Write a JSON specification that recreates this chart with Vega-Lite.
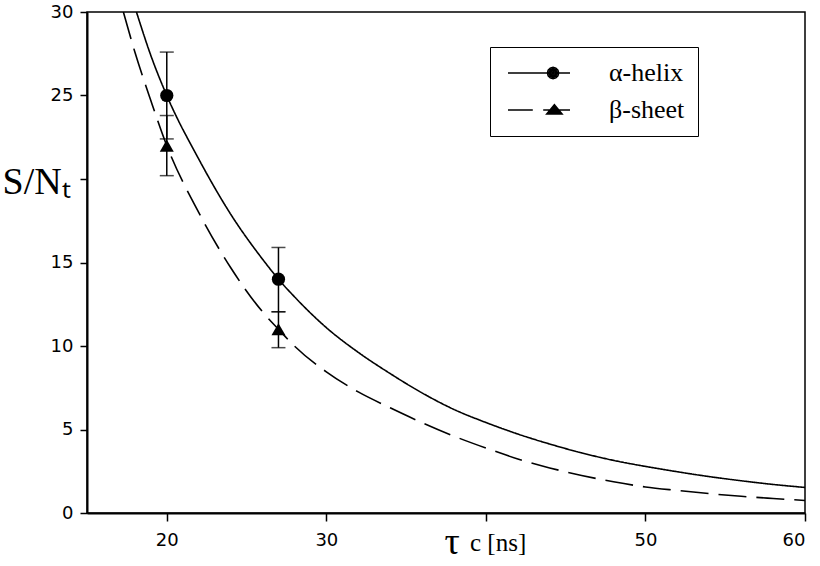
{
  "$schema": "https://vega.github.io/schema/vega-lite/v6.json",
  "width": 718,
  "height": 501,
  "autosize": {"type": "none"},
  "padding": {"left": 87, "top": 12, "right": 15, "bottom": 53},
  "background": "white",
  "config": {
    "view": {"stroke": "black", "strokeWidth": 1.5},
    "axis": {
      "grid": false,
      "domainColor": "black",
      "domainWidth": 2,
      "tickColor": "black",
      "tickWidth": 1.5,
      "labelColor": "black",
      "labelFont": "DejaVu Sans",
      "labelFontSize": 18,
      "titleColor": "black",
      "titleFont": "Liberation Serif",
      "titleFontWeight": "normal"
    }
  },
  "title": {
    "text": "c [ns]",
    "orient": "bottom",
    "anchor": "start",
    "frame": "group",
    "dx": 383,
    "offset": -30,
    "baseline": "top",
    "font": "Liberation Serif",
    "fontSize": 25,
    "fontWeight": "normal",
    "color": "black"
  },
  "datasets": {
    "curves": [
      {"series": "α-helix", "tau": 18.1, "sn": 30},
      {"series": "α-helix", "tau": 19, "sn": 27.4},
      {"series": "α-helix", "tau": 20, "sn": 25},
      {"series": "α-helix", "tau": 22, "sn": 21.2},
      {"series": "α-helix", "tau": 24, "sn": 17.9},
      {"series": "α-helix", "tau": 26, "sn": 15.2},
      {"series": "α-helix", "tau": 27, "sn": 14},
      {"series": "α-helix", "tau": 28, "sn": 12.95},
      {"series": "α-helix", "tau": 30, "sn": 11.1},
      {"series": "α-helix", "tau": 32, "sn": 9.62},
      {"series": "α-helix", "tau": 34, "sn": 8.35},
      {"series": "α-helix", "tau": 36, "sn": 7.19},
      {"series": "α-helix", "tau": 38, "sn": 6.2},
      {"series": "α-helix", "tau": 40, "sn": 5.42},
      {"series": "α-helix", "tau": 42, "sn": 4.73},
      {"series": "α-helix", "tau": 44, "sn": 4.13},
      {"series": "α-helix", "tau": 46, "sn": 3.6},
      {"series": "α-helix", "tau": 48, "sn": 3.15},
      {"series": "α-helix", "tau": 50, "sn": 2.79},
      {"series": "α-helix", "tau": 52, "sn": 2.47},
      {"series": "α-helix", "tau": 54, "sn": 2.18},
      {"series": "α-helix", "tau": 56, "sn": 1.93},
      {"series": "α-helix", "tau": 58, "sn": 1.71},
      {"series": "α-helix", "tau": 60, "sn": 1.53},
      {"series": "β-sheet", "tau": 17.28, "sn": 30},
      {"series": "β-sheet", "tau": 18, "sn": 27.6},
      {"series": "β-sheet", "tau": 19, "sn": 24.7},
      {"series": "β-sheet", "tau": 20, "sn": 22},
      {"series": "β-sheet", "tau": 22, "sn": 18.0},
      {"series": "β-sheet", "tau": 24, "sn": 14.7},
      {"series": "β-sheet", "tau": 26, "sn": 12.05},
      {"series": "β-sheet", "tau": 27, "sn": 11},
      {"series": "β-sheet", "tau": 28, "sn": 10.0},
      {"series": "β-sheet", "tau": 30, "sn": 8.45},
      {"series": "β-sheet", "tau": 32, "sn": 7.25},
      {"series": "β-sheet", "tau": 34, "sn": 6.3},
      {"series": "β-sheet", "tau": 36, "sn": 5.41},
      {"series": "β-sheet", "tau": 38, "sn": 4.6},
      {"series": "β-sheet", "tau": 40, "sn": 3.89},
      {"series": "β-sheet", "tau": 42, "sn": 3.24},
      {"series": "β-sheet", "tau": 44, "sn": 2.7},
      {"series": "β-sheet", "tau": 46, "sn": 2.25},
      {"series": "β-sheet", "tau": 48, "sn": 1.87},
      {"series": "β-sheet", "tau": 50, "sn": 1.56},
      {"series": "β-sheet", "tau": 52, "sn": 1.35},
      {"series": "β-sheet", "tau": 54, "sn": 1.16},
      {"series": "β-sheet", "tau": 56, "sn": 1.0},
      {"series": "β-sheet", "tau": 58, "sn": 0.87},
      {"series": "β-sheet", "tau": 60, "sn": 0.75}
    ],
    "pts": [
      {"series": "α-helix", "tau": 20, "sn": 25, "lo": 22.4, "hi": 27.6},
      {"series": "α-helix", "tau": 27, "sn": 14, "lo": 12.05, "hi": 15.9},
      {"series": "β-sheet", "tau": 20, "sn": 22, "lo": 20.2, "hi": 23.8},
      {"series": "β-sheet", "tau": 27, "sn": 11, "lo": 9.9, "hi": 12.05}
    ]
  },
  "layer": [
    {
      "data": {"name": "curves"},
      "mark": {"type": "line", "interpolate": "monotone", "strokeWidth": 1.6, "color": "black", "clip": true},
      "encoding": {
        "x": {
          "field": "tau", "type": "quantitative",
          "scale": {"domain": [15, 60], "nice": false, "zero": false},
          "axis": {
            "values": [20, 30, 40, 50, 60],
            "labelExpr": "datum.value === 40 ? '' : datum.label",
            "tickSize": 8,
            "labelPadding": 10,
            "title": "τ",
            "titleFontSize": 38,
            "titleX": 357,
            "titleY": 40,
            "titleAlign": "left",
            "titleBaseline": "alphabetic"
          }
        },
        "y": {
          "field": "sn", "type": "quantitative",
          "scale": {"domain": [0, 30], "nice": false},
          "axis": {
            "values": [0, 5, 10, 15, 20, 25, 30],
            "labelExpr": "datum.value === 20 ? '' : datum.label",
            "tickSize": 7,
            "labelPadding": 7,
            "title": "S/Nₜ",
            "titleAngle": 0,
            "titleFontSize": 38,
            "titleX": -85,
            "titleY": 181,
            "titleAlign": "left",
            "titleBaseline": "alphabetic"
          }
        },
        "strokeDash": {
          "field": "series", "type": "nominal",
          "scale": {"domain": ["β-sheet", "α-helix"], "range": [[28, 10], [1, 0]]},
          "legend": null
        }
      }
    },
    {
      "data": {"name": "pts"},
      "mark": {"type": "rule", "strokeWidth": 1.5, "color": "black"},
      "encoding": {
        "x": {"field": "tau", "type": "quantitative"},
        "y": {"field": "lo", "type": "quantitative"},
        "y2": {"field": "hi"}
      }
    },
    {
      "data": {"name": "pts"},
      "mark": {"type": "tick", "orient": "horizontal", "size": 14, "thickness": 1.5, "color": "black"},
      "encoding": {
        "x": {"field": "tau", "type": "quantitative"},
        "y": {"field": "lo", "type": "quantitative"}
      }
    },
    {
      "data": {"name": "pts"},
      "mark": {"type": "tick", "orient": "horizontal", "size": 14, "thickness": 1.5, "color": "black"},
      "encoding": {
        "x": {"field": "tau", "type": "quantitative"},
        "y": {"field": "hi", "type": "quantitative"}
      }
    },
    {
      "data": {"name": "pts"},
      "transform": [{"filter": "datum.series === 'α-helix'"}],
      "mark": {"type": "point", "shape": "circle", "filled": true, "opacity": 1, "color": "black", "size": 175},
      "encoding": {
        "x": {"field": "tau", "type": "quantitative"},
        "y": {"field": "sn", "type": "quantitative"}
      }
    },
    {
      "data": {"name": "pts"},
      "transform": [{"filter": "datum.series === 'β-sheet'"}],
      "mark": {"type": "point", "shape": "triangle-up", "filled": true, "opacity": 1, "color": "black", "size": 196},
      "encoding": {
        "x": {"field": "tau", "type": "quantitative"},
        "y": {"field": "sn", "type": "quantitative"}
      }
    },
    {
      "data": {"name": "pts"},
      "transform": [{"filter": "datum.series === 'none'"}],
      "mark": {"type": "point", "filled": false, "opacity": 1, "color": "black", "strokeWidth": 1.6},
      "encoding": {
        "x": {"field": "tau", "type": "quantitative"},
        "y": {"field": "sn", "type": "quantitative"},
        "shape": {
          "field": "series", "type": "nominal",
          "scale": {
            "domain": ["α-helix", "β-sheet"],
            "range": [
              "M-1,0L6.75,0M5.33,0L5.236,0.35L4.98,0.606L4.63,0.7L4.28,0.606L4.024,0.35L3.93,0L4.024,-0.35L4.28,-0.606L4.63,-0.7L4.98,-0.606L5.236,-0.35ZM5.13,0L4.984,0.354L4.63,0.5L4.276,0.354L4.13,0L4.276,-0.354L4.63,-0.5L4.984,-0.354ZM4.93,0L4.842,0.212L4.63,0.3L4.418,0.212L4.33,0L4.418,-0.212L4.63,-0.3L4.842,-0.212ZM4.73,0L4.63,0.1L4.53,0L4.63,-0.1Z",
              "M-1,0L2.1,0M3.4,0L6.75,0M4.8,-0.65L5.75,0.5L3.85,0.5ZM4.8,-0.343L5.37,0.347L4.23,0.347ZM4.8,-0.037L4.99,0.193L4.61,0.193Z"
            ]
          },
          "legend": {
            "orient": "none",
            "legendX": 403,
            "legendY": 35,
            "title": null,
            "strokeColor": "black",
            "fillColor": "white",
            "padding": 13,
            "symbolSize": 256,
            "labelOffset": 80,
            "rowPadding": 11,
            "labelFont": "Liberation Serif",
            "labelFontSize": 26,
            "labelColor": "black",
            "labelLimit": 300,
            "symbolStrokeColor": "black",
            "symbolStrokeWidth": 1.6,
            "symbolOpacity": 1
          }
        }
      }
    }
  ]
}
